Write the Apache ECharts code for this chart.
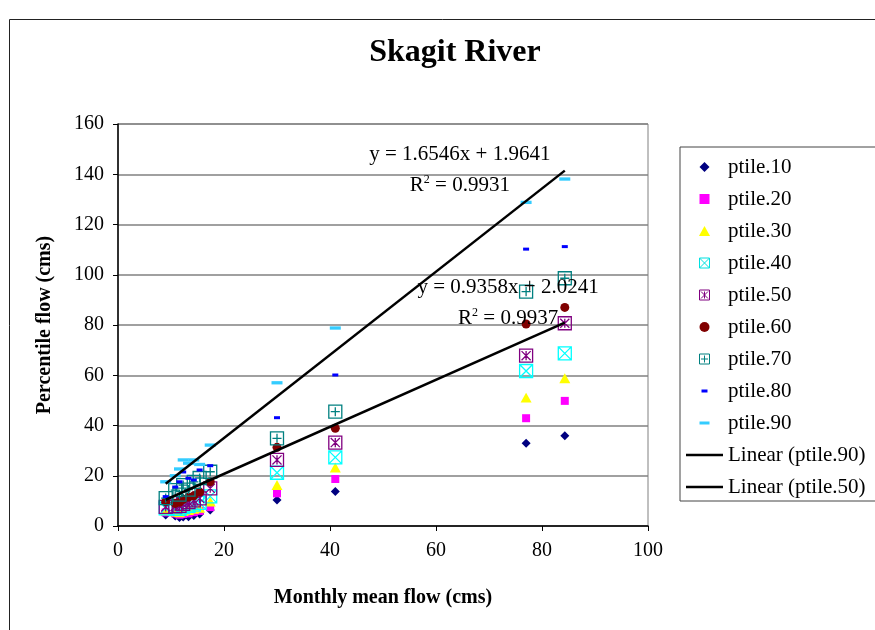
<!DOCTYPE html>
<html><head><meta charset="utf-8">
<script src="https://cdn.jsdelivr.net/npm/echarts@6/dist/echarts.min.js"></script>
<style>html,body{margin:0;padding:0;background:#fff}#c{width:875px;height:630px}</style>
</head><body><div id="c"></div>
<script>
// ---- data ----
const monthlyMean = [9.0, 10.8, 11.6, 12.3, 13.3, 14.3, 15.4, 17.4, 30.0, 41.0, 77.0, 84.3];
const ptile10 = [4.4, 4.0, 3.4, 3.6, 3.7, 4.2, 4.8, 6.4, 10.3, 13.7, 32.9, 35.9];
const ptile20 = [5.4, 5.0, 4.5, 4.8, 5.0, 5.5, 6.0, 7.5, 13.0, 18.7, 42.9, 49.8];
const ptile30 = [6.2, 5.8, 5.5, 6.0, 6.3, 6.8, 7.2, 9.7, 16.3, 23.3, 51.1, 58.8];
const ptile40 = [7.0, 6.8, 6.8, 7.5, 8.0, 8.5, 9.2, 11.8, 21.2, 27.3, 61.7, 68.7];
const ptile50 = [7.6, 7.8, 8.0, 8.8, 9.5, 10.2, 11.0, 15.0, 26.3, 33.2, 67.8, 80.7];
const ptile60 = [9.7, 9.0, 9.5, 10.5, 11.5, 12.0, 13.5, 17.6, 31.3, 38.9, 80.4, 87.0];
const ptile70 = [11.1, 14.3, 12.5, 16.3, 14.5, 17.6, 19.1, 21.6, 34.9, 45.5, 93.3, 98.6];
const ptile80 = [11.7, 15.5, 17.6, 21.5, 19.0, 18.3, 22.3, 24.0, 43.1, 60.1, 110.2, 111.2];
const ptile90 = [17.6, 20.0, 22.7, 26.3, 25.0, 26.3, 24.5, 32.2, 57.0, 78.8, 128.8, 138.1];
const seriesNames = ['ptile.10','ptile.20','ptile.30','ptile.40','ptile.50','ptile.60','ptile.70','ptile.80','ptile.90'];
const fit90 = {slope: 1.6546, intercept: 1.9641};
const fit50 = {slope: 0.9358, intercept: 2.0241};
const fitNames = ['Linear (ptile.90)', 'Linear (ptile.50)'];
const eqLabels = [
  {x: 64.5, y: 147.7, text: 'y = 1.6546x + 1.9641'},
  {x: 64.5, y: 135.5, text: 'R2 = 0.9931'},
  {x: 73.6, y: 95.1, text: 'y = 0.9358x + 2.0241'},
  {x: 73.6, y: 82.6, text: 'R2 = 0.9937'}
];
const xTicks = {min: 0, max: 100, step: 20};
const yTicks = {min: 0, max: 160, step: 20};
const titleText = 'Skagit River';
const xTitle = 'Monthly mean flow (cms)';
const yTitle = 'Percentile flow (cms)';

// ---- styling ----
const FONT = 'Liberation Serif';
const allVals = [ptile10, ptile20, ptile30, ptile40, ptile50, ptile60, ptile70, ptile80, ptile90];
const styles = [
  {symbol: 'path://M5,0 L10,5 L5,10 L0,5 Z', size: 9, fill: '#000080'},
  {symbol: 'path://M0,0 L10,0 L10,10 L0,10 Z', size: 8, fill: '#FF00FF'},
  {symbol: 'path://M5,0 L10,9 L0,9 Z', size: 11, fill: '#FFFF00'},
  {symbol: 'path://M0,0 L10,0 L10,10 L0,10 Z M0,0 L10,10 M10,0 L0,10', size: 13, stroke: '#00FFFF', legendStroke: '#00E0E0'},
  {symbol: 'path://M0,0 L10,0 L10,10 L0,10 Z M1.5,1.5 L8.5,8.5 M8.5,1.5 L1.5,8.5 M5,1.5 L5,8.5', size: 13, stroke: '#800080'},
  {symbol: 'circle', size: 9, fill: '#800000'},
  {symbol: 'path://M0,0 L10,0 L10,10 L0,10 Z M5,1.5 L5,8.5 M1.5,5 L8.5,5', size: 13, stroke: '#008080'},
  {symbol: 'path://M0,0 M10,10 M2,3.5 L8,3.5 L8,6.5 L2,6.5 Z', size: 10, fill: '#0000FF'},
  {symbol: 'path://M0,0 M10,10 M0,3.5 L10,3.5 L10,6.5 L0,6.5 Z', size: 11, fill: '#33CCFF'}
];

const series = seriesNames.map((name, i) => {
  const st = styles[i];
  const itemStyle = st.stroke
    ? {color: 'rgba(0,0,0,0)', borderColor: st.stroke, borderWidth: 1.3, opacity: 1}
    : {color: st.fill, borderWidth: 0, opacity: 1};
  return {
    name, type: 'scatter', symbol: st.symbol, symbolSize: st.size, symbolKeepAspect: true,
    itemStyle, z: 3,
    data: monthlyMean.map((x, k) => [x, allVals[i][k]])
  };
});

const xMin = Math.min(...monthlyMean), xMax = Math.max(...monthlyMean);
[fit90, fit50].forEach((f, i) => {
  series.push({
    name: fitNames[i], type: 'line', showSymbol: false, symbol: 'none', z: 4,
    itemStyle: {color: '#000'},
    lineStyle: {color: '#000', width: 2.5},
    data: [[xMin, f.slope * xMin + f.intercept], [xMax, f.slope * xMax + f.intercept]]
  });
});

series.push({
  name: 'labels', type: 'scatter', symbolSize: 0, z: 6, silent: true,
  itemStyle: {opacity: 1},
  data: eqLabels.map(l => [l.x, l.y, l.text]),
  label: {
    show: true, position: 'inside', color: '#000', opacity: 1,
    formatter: p => {
      const t = p.data[2];
      if (t.startsWith('R2')) return '{a|R}{s|2}{a|' + t.slice(2) + '}';
      return '{a|' + t + '}';
    },
    rich: {
      a: {fontFamily: FONT, fontSize: 21, color: '#000'},
      s: {fontFamily: FONT, fontSize: 12, color: '#000', verticalAlign: 'top', padding: [0, 0, 12, 0]}
    }
  }
});

const legendData = seriesNames.map((n, i) => {
  const st = styles[i];
  const d = {name: n};
  if (st.stroke) d.itemStyle = {borderWidth: 1, borderColor: st.legendStroke || st.stroke, color: 'rgba(0,0,0,0)', opacity: 1};
  else d.itemStyle = {borderWidth: 0, opacity: 1};
  return d;
}).concat(fitNames.map(n => ({
  name: n, icon: 'path://M0,0 L37,0 L37,2.5 L0,2.5 Z', itemStyle: {color: '#000', borderWidth: 0}
})));

const chart = echarts.init(document.getElementById('c'), null, {renderer: 'canvas'});
chart.setOption({
  animation: false,
  backgroundColor: '#fff',
  title: {
    text: titleText, left: 450, top: 32, textAlign: 'center',
    textStyle: {fontFamily: FONT, fontSize: 32, fontWeight: 'bold', color: '#000'}
  },
  graphic: [{
    type: 'rect', left: 7, top: 17, shape: {width: 900, height: 700},
    style: {fill: 'none', stroke: '#222', lineWidth: 1}, z: -1
  }],
  grid: {left: 118, top: 124, width: 530, height: 402, show: true, borderColor: '#808080', borderWidth: 1, backgroundColor: '#fff'},
  legend: {
    orient: 'vertical', left: 680, top: 147,
    data: legendData,
    itemWidth: 37, itemHeight: 10, itemGap: 8,
    padding: [8, 40, 2, 6],
    borderColor: '#444', borderWidth: 1,
    textStyle: {fontFamily: FONT, fontSize: 21, color: '#000', lineHeight: 24},
    selectedMode: false
  },
  xAxis: {
    type: 'value', min: xTicks.min, max: xTicks.max, interval: xTicks.step,
    name: xTitle, nameLocation: 'middle', nameGap: 62,
    nameTextStyle: {fontFamily: FONT, fontSize: 20, fontWeight: 'bold', color: '#000'},
    axisLine: {show: true, lineStyle: {color: '#000', width: 1.5}},
    axisTick: {show: true, length: 5, lineStyle: {color: '#000'}},
    axisLabel: {fontFamily: FONT, fontSize: 20, color: '#000', margin: 15},
    splitLine: {show: false}
  },
  yAxis: {
    type: 'value', min: yTicks.min, max: yTicks.max, interval: yTicks.step,
    name: yTitle, nameLocation: 'middle', nameGap: 63, nameRotate: 90,
    nameTextStyle: {fontFamily: FONT, fontSize: 20, fontWeight: 'bold', color: '#000'},
    axisLine: {show: true, lineStyle: {color: '#000', width: 1.5}},
    axisTick: {show: true, length: 5, lineStyle: {color: '#000'}},
    axisLabel: {fontFamily: FONT, fontSize: 20, color: '#000', margin: 14},
    splitLine: {show: true, lineStyle: {color: '#808080', width: 1.5}}
  },
  series
});
</script></body></html>
